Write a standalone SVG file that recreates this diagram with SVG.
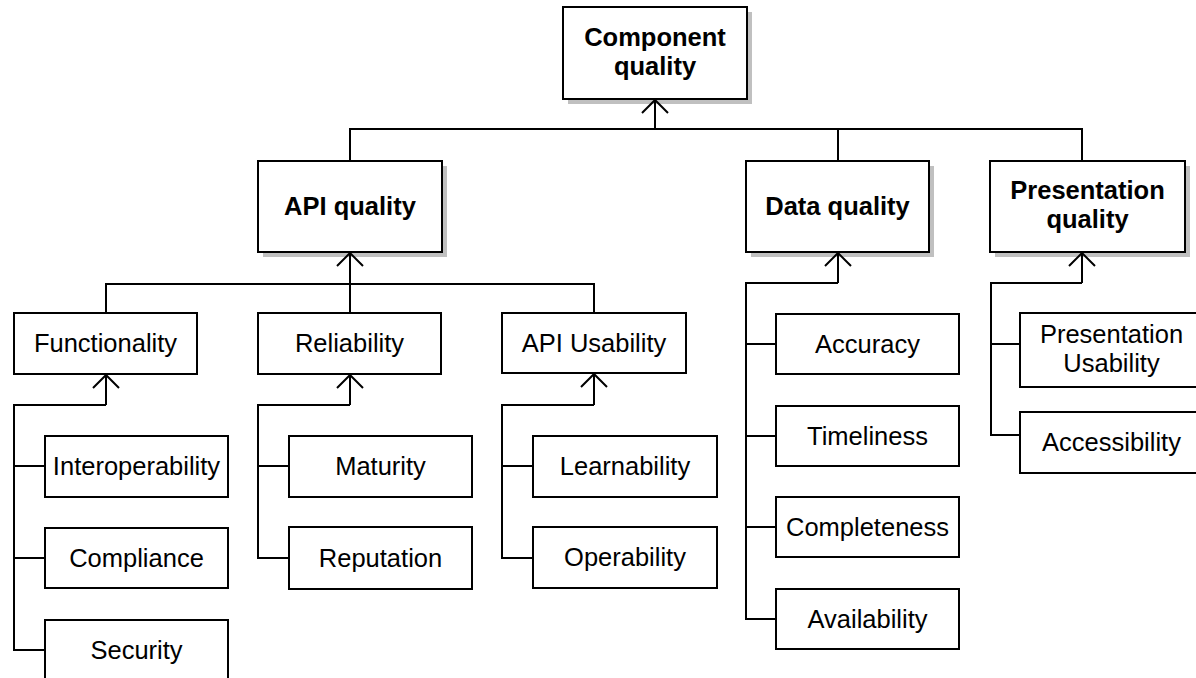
<svg xmlns="http://www.w3.org/2000/svg" width="1196" height="678" viewBox="0 0 1196 678">
<style>
.box{fill:#fff;stroke:#000;stroke-width:2}
.sh{fill:#c0c0c0;stroke:none}
.t{font-family:"Liberation Sans",Arial,sans-serif;font-size:25.5px;fill:#000;text-anchor:middle}
.b{font-weight:bold}
.c{fill:none;stroke:#000;stroke-width:2}
.ah{fill:none;stroke:#000;stroke-width:2;stroke-linejoin:miter}
</style>
<rect width="1196" height="678" fill="#fff"/>
<g id="component-quality">
<rect class="sh" x="568" y="12" width="184" height="92"/>
<rect class="box" x="563" y="7" width="184" height="92"/>
<text class="t b" x="655" y="46">Component</text>
<text class="t b" x="655" y="75">quality</text>
</g>
<g id="api-quality">
<rect class="sh" x="263" y="166" width="184" height="91"/>
<rect class="box" x="258" y="161" width="184" height="91"/>
<text class="t b" x="350" y="215">API quality</text>
</g>
<g id="data-quality">
<rect class="sh" x="751" y="166" width="183" height="91"/>
<rect class="box" x="746" y="161" width="183" height="91"/>
<text class="t b" x="837.5" y="215">Data quality</text>
</g>
<g id="presentation-quality">
<rect class="sh" x="995" y="166" width="195" height="91"/>
<rect class="box" x="990" y="161" width="195" height="91"/>
<text class="t b" x="1087.5" y="199">Presentation</text>
<text class="t b" x="1087.5" y="228">quality</text>
</g>
<g id="functionality">
<rect class="box" x="14" y="313" width="183" height="61"/>
<text class="t" x="105.5" y="352">Functionality</text>
</g>
<g id="reliability">
<rect class="box" x="258" y="313" width="183" height="61"/>
<text class="t" x="349.5" y="352">Reliability</text>
</g>
<g id="api-usability">
<rect class="box" x="502" y="313" width="184" height="60"/>
<text class="t" x="594" y="352">API Usability</text>
</g>
<g id="interoperability">
<rect class="box" x="45" y="436" width="183" height="61"/>
<text class="t" x="136.5" y="475">Interoperability</text>
</g>
<g id="compliance">
<rect class="box" x="45" y="528" width="183" height="60"/>
<text class="t" x="136.5" y="567">Compliance</text>
</g>
<g id="security">
<rect class="box" x="45" y="620" width="183" height="61"/>
<text class="t" x="136.5" y="659">Security</text>
</g>
<g id="maturity">
<rect class="box" x="289" y="436" width="183" height="61"/>
<text class="t" x="380.5" y="475">Maturity</text>
</g>
<g id="reputation">
<rect class="box" x="289" y="527" width="183" height="62"/>
<text class="t" x="380.5" y="567">Reputation</text>
</g>
<g id="learnability">
<rect class="box" x="533" y="436" width="184" height="61"/>
<text class="t" x="625" y="475">Learnability</text>
</g>
<g id="operability">
<rect class="box" x="533" y="527" width="184" height="61"/>
<text class="t" x="625" y="566">Operability</text>
</g>
<g id="accuracy">
<rect class="box" x="776" y="314" width="183" height="60"/>
<text class="t" x="867.5" y="353">Accuracy</text>
</g>
<g id="timeliness">
<rect class="box" x="776" y="406" width="183" height="60"/>
<text class="t" x="867.5" y="445">Timeliness</text>
</g>
<g id="completeness">
<rect class="box" x="776" y="497" width="183" height="60"/>
<text class="t" x="867.5" y="536">Completeness</text>
</g>
<g id="availability">
<rect class="box" x="776" y="589" width="183" height="60"/>
<text class="t" x="867.5" y="628">Availability</text>
</g>
<g id="presentation-usability">
<rect class="box" x="1020" y="313" width="183" height="74"/>
<text class="t" x="1111.5" y="343">Presentation</text>
<text class="t" x="1111.5" y="372">Usability</text>
</g>
<g id="accessibility">
<rect class="box" x="1020" y="412" width="183" height="61"/>
<text class="t" x="1111.5" y="451">Accessibility</text>
</g>
<g id="connectors">
<path class="c" d="M655,129 L655,100"/>
<path class="ah" d="M642,113 L655,100 L668,113"/>
<path class="c" d="M350,161 L350,129 L1082,129 L1082,161 M838,129 L838,161"/>
<path class="c" d="M350,284 L350,253"/>
<path class="ah" d="M337,266 L350,253 L363,266"/>
<path class="c" d="M106,313 L106,284 L594,284 L594,313 M350,284 L350,313"/>
<path class="c" d="M106,405 L106,375"/>
<path class="ah" d="M93,388 L106,375 L119,388"/>
<path class="c" d="M106,405 L14,405 L14,650 L45,650 M14,466 L45,466 M14,558 L45,558"/>
<path class="c" d="M350,405 L350,375"/>
<path class="ah" d="M337,388 L350,375 L363,388"/>
<path class="c" d="M350,405 L258,405 L258,558 L289,558 M258,466 L289,466"/>
<path class="c" d="M594,405 L594,374"/>
<path class="ah" d="M581,387 L594,374 L607,387"/>
<path class="c" d="M594,405 L502,405 L502,558 L533,558 M502,466 L533,466"/>
<path class="c" d="M838,283 L838,253"/>
<path class="ah" d="M825,266 L838,253 L851,266"/>
<path class="c" d="M838,283 L746,283 L746,619 L776,619 M746,344 L776,344 M746,436 L776,436 M746,527 L776,527"/>
<path class="c" d="M1082,283 L1082,253"/>
<path class="ah" d="M1069,266 L1082,253 L1095,266"/>
<path class="c" d="M1082,283 L991,283 L991,435 L1020,435 M991,344 L1020,344"/>
</g>
</svg>
